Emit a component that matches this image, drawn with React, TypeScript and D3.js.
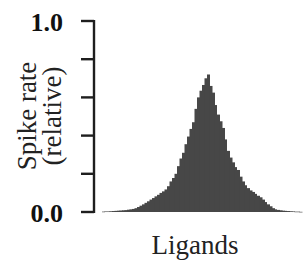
import React from "react";
import * as d3 from "d3";

const rates = [
  0.002, 0.003, 0.003, 0.004, 0.005, 0.006, 0.007, 0.008, 0.009, 0.010,
  0.012, 0.014, 0.016, 0.020, 0.026, 0.033, 0.040, 0.048, 0.056, 0.065,
  0.073, 0.082, 0.090, 0.100, 0.108, 0.118, 0.135, 0.160, 0.178, 0.200,
  0.240, 0.280, 0.310, 0.355, 0.395, 0.435, 0.470, 0.540, 0.600, 0.635,
  0.665, 0.700, 0.720, 0.660, 0.625, 0.560, 0.510, 0.475, 0.440, 0.380,
  0.320, 0.285, 0.260, 0.235, 0.220, 0.185, 0.160, 0.140, 0.125, 0.113,
  0.105, 0.095, 0.085, 0.077, 0.065, 0.052, 0.040, 0.030, 0.020, 0.014,
  0.011, 0.009, 0.007, 0.006, 0.005, 0.004, 0.003, 0.002, 0.002, 0.001,
];
const ligands = rates.map((_, i) => `L${i + 1}`);
const yTicks = [0, 0.2, 0.4, 0.6, 0.8, 1.0];
const yTickLabels = ["0.0", "", "", "", "", "1.0"];
const yLabelLines = ["Spike rate", "(relative)"];
const xLabel = "Ligands";

const W = 303;
const H = 262;
const axisX = 94;
const y = d3.scaleLinear().domain([0, 1]).range([212, 21]);
const x = d3.scaleBand<string>().domain(ligands).range([102, 302]).paddingInner(0);

export default function App() {
  const font = "Liberation Serif, DejaVu Serif, serif";
  return (
    <svg
      width={W}
      height={H}
      style={{ position: "absolute", left: 0, top: 0, background: "#fff" }}
    >
      <g>
        {rates.map((v, i) => (
          <rect
            key={i}
            x={x(ligands[i])}
            y={y(v)}
            width={x.bandwidth() + (i % 4 === 1 ? 0 : 0.5)}
            height={Math.max(0.6, y(0) - y(v))}
            fill="#474747"
          />
        ))}
      </g>
      <line x1={axisX} x2={axisX} y1={y(1) - 1} y2={y(0) + 1} stroke="#1e1e1e" strokeWidth={2.4} />
      {yTicks.map((t, i) => (
        <g key={t}>
          <line x1={axisX - 13} x2={axisX} y1={y(t)} y2={y(t)} stroke="#1e1e1e" strokeWidth={2.4} />
          {yTickLabels[i] && (
            <text
              x={63}
              y={y(t) + 10}
              textAnchor="end"
              style={{ fontFamily: font, fontWeight: "bold", fontSize: 26 }}
              fill="#111"
            >
              {yTickLabels[i]}
            </text>
          )}
        </g>
      ))}
      <g transform={`translate(0, ${116}) rotate(-90)`}>
        <text x={0} y={36} textAnchor="middle" style={{ fontFamily: font, fontSize: 27 }} fill="#222">
          {yLabelLines[0]}
        </text>
        <text x={0} y={61} textAnchor="middle" style={{ fontFamily: font, fontSize: 27 }} fill="#222">
          {yLabelLines[1]}
        </text>
      </g>
      <text x={195} y={254} textAnchor="middle" style={{ fontFamily: font, fontSize: 27 }} fill="#222">
        {xLabel}
      </text>
    </svg>
  );
}
